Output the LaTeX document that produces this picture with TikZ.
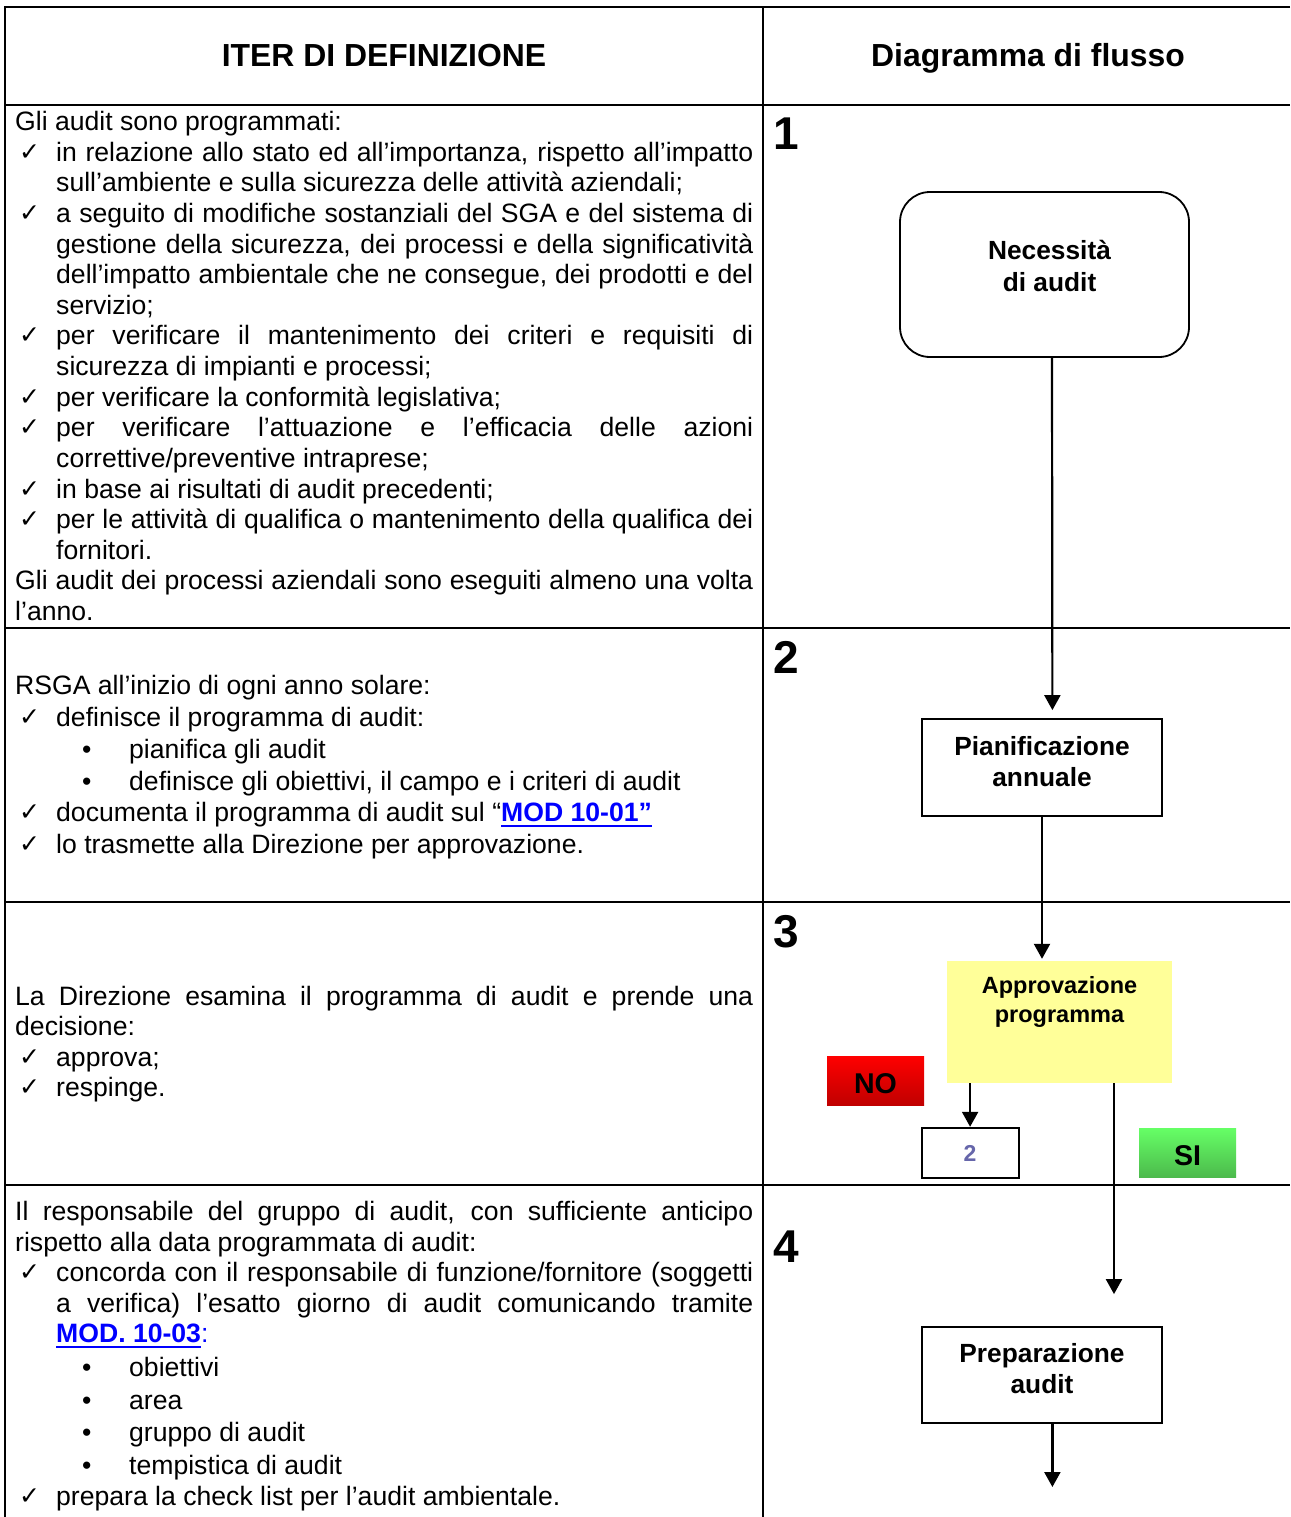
\documentclass[tikz,border=0pt]{standalone}
\usepackage{fontspec}
\setmainfont{Liberation Sans}
\newfontfamily\ckfont{DejaVu Sans}
\usetikzlibrary{arrows.meta,shadings}
\definecolor{linkblue}{RGB}{0,0,255}
\definecolor{noteyellow}{RGB}{255,255,153}
\definecolor{twoblue}{RGB}{102,102,170}
\definecolor{redtop}{RGB}{255,0,0}
\definecolor{redbot}{RGB}{192,0,0}
\definecolor{greentop}{RGB}{102,255,102}
\definecolor{greenbot}{RGB}{76,186,76}
\hbadness=10000 \hfuzz=20pt
\newcommand\ckm{\hbox to 41pt{\hskip4pt\raisebox{1pt}{\ckfont\fontsize{25}{25}\selectfont ✓}\hfil}}
\newcommand\bul{\hbox to 114pt{\hskip67pt•\hfil}}
\newcommand\lnk[1]{\setbox0\hbox{\bfseries\color{linkblue}#1}\rlap{\color{linkblue}\rule[-5.5pt]{\wd0}{2.2pt}}\box0}
\newcommand\ctwo[3]{\vtop{\baselineskip=#1\lineskiplimit=-100pt\hbox to 0pt{\hss#2\hss}\hbox to 0pt{\hss#3\hss}}}
\begin{document}
\begin{tikzpicture}[x=1pt,y=-1pt,
 body/.style={anchor=base west,inner sep=0pt,font=\fontsize{26.6}{30.6}\selectfont},
 hdr/.style={anchor=base,inner sep=0pt,font=\fontsize{31.9}{36}\selectfont\bfseries},
 stepno/.style={anchor=base west,inner sep=0pt,font=\fontsize{46}{50}\selectfont\bfseries},
 grid/.style={line width=2.4pt},
 flowbox/.style={draw,line width=1.8pt,inner sep=0pt},
 boxtext/.style={anchor=base,inner sep=0pt,font=\fontsize{26.3}{31}\selectfont\bfseries},
 tag/.style={inner sep=0pt,text height=25pt,text depth=0pt,font=\fontsize{28.6}{30}\selectfont\bfseries},
 arr/.style={line width=2.2pt,-{Triangle[width=16pt,length=15pt]}}]
\useasboundingbox (0,0) rectangle (1290,1517);
\fill[white] (0,0) rectangle (1290,1517);
% table
\draw[grid] (1290,7) -- (5,7) -- (5,1517);
\draw[grid] (763,7) -- (763,1517);
\draw[grid] (5,105) -- (1290,105);
\draw[grid] (5,628) -- (1290,628);
\draw[grid] (5,902) -- (1290,902);
\draw[grid] (5,1185) -- (1290,1185);
% headers
\node[hdr] (h1) at (384,67) {ITER DI DEFINIZIONE};
\node[hdr] (h2) at (1028,67) {Diagramma di flusso};
% step numbers
\node[stepno] (n1) at (773,150) {1};
\node[stepno] (n2) at (773,673) {2};
\node[stepno] (n3) at (773,947) {3};
\node[stepno] (n4) at (773,1262) {4};
% row 1
\node[body] (r1a) at (15,130.5) {Gli audit sono programmati:};
\node[body] (r1b) at (15,161.1) {\hbox to 738pt{\ckm in relazione allo stato ed all’importanza, rispetto all’impatto}};
\node[body] (r1c) at (56,191.8) {sull’ambiente e sulla sicurezza delle attività aziendali;};
\node[body] (r1d) at (15,222.4) {\hbox to 738pt{\ckm a seguito di modifiche sostanziali del SGA e del sistema di}};
\node[body] (r1e) at (56,253.0) {\hbox to 697pt{gestione della sicurezza, dei processi e della significatività}};
\node[body] (r1f) at (56,283.6) {\hbox to 697pt{dell’impatto ambientale che ne consegue, dei prodotti e del}};
\node[body] (r1g) at (56,314.3) {servizio;};
\node[body] (r1h) at (15,344.9) {\hbox to 738pt{\ckm per verificare il mantenimento dei criteri e requisiti di}};
\node[body] (r1i) at (56,375.5) {sicurezza di impianti e processi;};
\node[body] (r1j) at (15,406.1) {\ckm per verificare la conformità legislativa;};
\node[body] (r1k) at (15,436.8) {\hbox to 738pt{\ckm per verificare l’attuazione e l’efficacia delle azioni}};
\node[body] (r1l) at (56,467.4) {correttive/preventive intraprese;};
\node[body] (r1m) at (15,498.0) {\ckm in base ai risultati di audit precedenti;};
\node[body] (r1n) at (15,528.6) {\hbox to 738pt{\ckm per le attività di qualifica o mantenimento della qualifica dei}};
\node[body] (r1o) at (56,559.3) {fornitori.};
\node[body] (r1p) at (15,589.9) {\hbox to 738pt{Gli audit dei processi aziendali sono eseguiti almeno una volta}};
\node[body] (r1q) at (15,620.5) {l’anno.};
% row 2
\node[body] (r2a) at (15,694.5) {RSGA all’inizio di ogni anno solare:};
\node[body] (r2b) at (15,726) {\ckm definisce il programma di audit:};
\node[body] (r2c) at (15,758) {\bul pianifica gli audit};
\node[body] (r2d) at (15,790) {\bul definisce gli obiettivi, il campo e i criteri di audit};
\node[body] (r2e) at (15,821.5) {\ckm documenta il programma di audit sul “\lnk{MOD 10-01”}};
\node[body] (r2f) at (15,853) {\ckm lo trasmette alla Direzione per approvazione.};
% row 3
\node[body] (r3a) at (15,1005) {\hbox to 738pt{La Direzione esamina il programma di audit e prende una}};
\node[body] (r3b) at (15,1035.6) {decisione:};
\node[body] (r3c) at (15,1066.2) {\ckm approva;};
\node[body] (r3d) at (15,1096.8) {\ckm respinge.};
% row 4
\node[body] (r4a) at (15,1220) {\hbox to 738pt{Il responsabile del gruppo di audit, con sufficiente anticipo}};
\node[body] (r4b) at (15,1251) {rispetto alla data programmata di audit:};
\node[body] (r4c) at (15,1281) {\hbox to 738pt{\ckm concorda con il responsabile di funzione/fornitore (soggetti}};
\node[body] (r4d) at (56,1312) {\hbox to 697pt{a verifica) l’esatto giorno di audit comunicando tramite}};
\node[body] (r4e) at (56,1342.5) {\lnk{MOD. 10-03}:};
\node[body] (r4f) at (15,1376.5) {\bul obiettivi};
\node[body] (r4g) at (15,1409.5) {\bul area};
\node[body] (r4h) at (15,1441.5) {\bul gruppo di audit};
\node[body] (r4i) at (15,1474) {\bul tempistica di audit};
\node[body] (r4j) at (15,1505.5) {\ckm prepara la check list per l’audit ambientale.};
% flow boxes
\node[flowbox,rounded corners=30pt,minimum width=289pt,minimum height=165pt] (nec) at (1044.5,274.5) {};
\node[boxtext] (necT) at (1049.5,259.5) {\ctwo{32pt}{Necessità}{di audit}};
\node[flowbox,minimum width=240.7pt,minimum height=97pt] (pian) at (1042,767.5) {};
\node[boxtext] (pianT) at (1042,755) {\ctwo{31pt}{Pianificazione}{annuale}};
\node[fill=noteyellow,inner sep=0pt,minimum width=225pt,minimum height=122pt] (appr) at (1059.5,1022) {};
\node[boxtext,font=\fontsize{23.5}{29}\selectfont\bfseries] (apprT) at (1059.5,993) {\ctwo{29pt}{Approvazione}{programma}};
\node[tag,top color=redtop,bottom color=redbot,minimum width=97pt,minimum height=49pt] (no) at (875.5,1080.5) {NO};
\node[flowbox,minimum width=97pt,minimum height=50.6pt,text=twoblue,font=\fontsize{23}{25}\selectfont\bfseries] (two) at (970.1,1153) {2};
\node[tag,top color=greentop,bottom color=greenbot,minimum width=97pt,minimum height=49pt] (si) at (1187.5,1152.5) {SI};
\node[flowbox,minimum width=240.7pt,minimum height=96.6pt] (prep) at (1042,1375) {};
\node[boxtext] (prepT) at (1042,1362) {\ctwo{31.5pt}{Preparazione}{audit}};
\coordinate (exitpt) at (1052.4,1487);
% connectors
\draw[arr] ([xshift=7.5pt]nec.south) -- ([xshift=10.4pt,yshift=8pt]pian.north);
\draw[arr] (pian.south) -- ([xshift=-17.5pt,yshift=2pt]appr.north);
\draw[arr] (two.north |- appr.south) -- (two.north);
\draw[arr] ([xshift=54.5pt]appr.south) -- ([xshift=72pt,yshift=31.7pt]prep.north);
\draw[arr] ([xshift=10.4pt]prep.south) -- (exitpt);
\end{tikzpicture}
\end{document}
